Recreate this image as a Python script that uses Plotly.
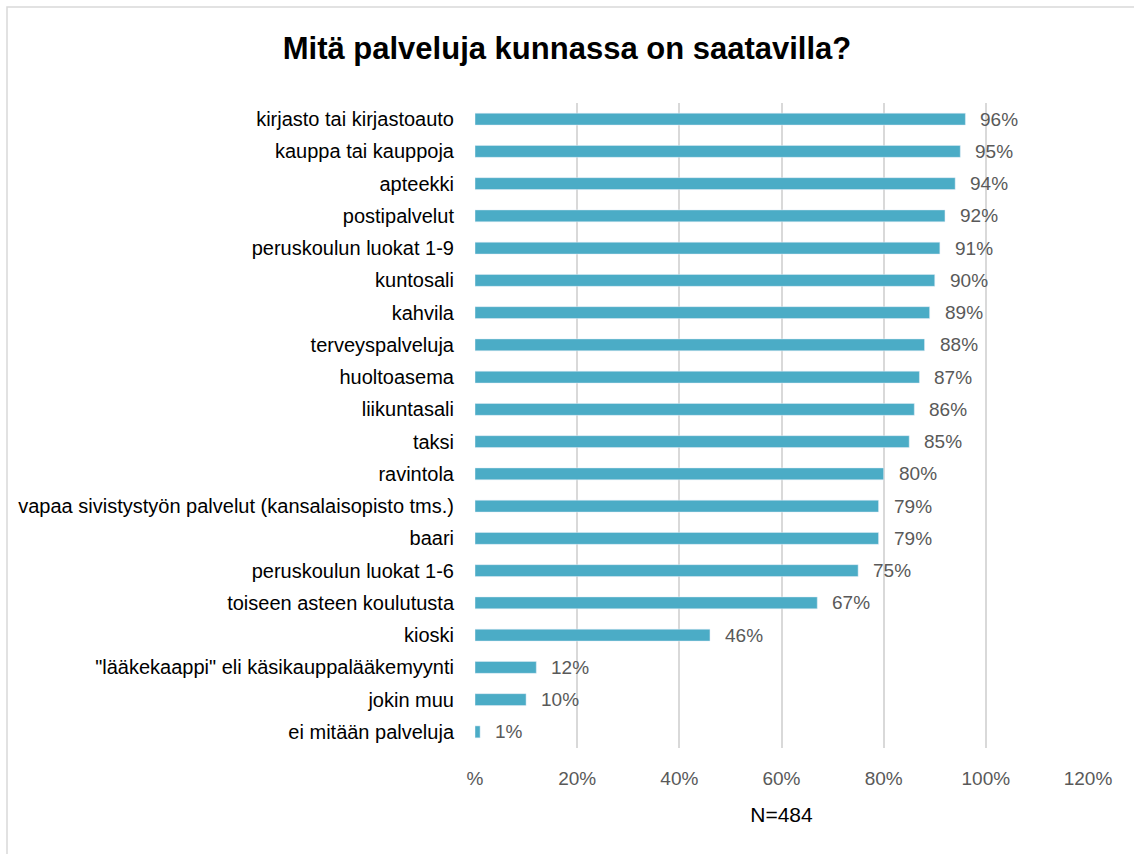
import plotly.graph_objects as go

####################### Data #######################
services = [
    'kirjasto tai kirjastoauto',
    'kauppa tai kauppoja',
    'apteekki',
    'postipalvelut',
    'peruskoulun luokat 1-9',
    'kuntosali',
    'kahvila',
    'terveyspalveluja',
    'huoltoasema',
    'liikuntasali',
    'taksi',
    'ravintola',
    'vapaa sivistystyön palvelut (kansalaisopisto tms.)',
    'baari',
    'peruskoulun luokat 1-6',
    'toiseen asteen koulutusta',
    'kioski',
    '"lääkekaappi" eli käsikauppalääkemyynti',
    'jokin muu',
    'ei mitään palveluja',
]
shares = [96, 95, 94, 92, 91, 90, 89, 88, 87, 86, 85, 80, 79, 79, 75, 67, 46, 12, 10, 1]

tick_vals = [0, 20, 40, 60, 80, 100, 120]
tick_text = ['%', '20%', '40%', '60%', '80%', '100%', '120%']

font_main = 'Liberation Sans Narrow, Arial Narrow, Liberation Sans, Arial, sans-serif'

####################### Plot #######################
fig = go.Figure()

fig.add_trace(go.Bar(
    x=shares,
    y=services,
    orientation='h',
    width=0.37,
    marker=dict(color='#4BACC6'),
    showlegend=False,
))

# value labels next to the bars
for name, val in zip(services, shares):
    fig.add_annotation(
        x=val, y=name,
        text=f'{val}%',
        showarrow=False,
        xanchor='left',
        xshift=13,
        font=dict(family=font_main, size=19, color='#595959'),
    )

fig.update_layout(
    title=dict(
        text='<b>Mitä palveluja kunnassa on saatavilla?</b>',
        x=0.5, xanchor='center',
        y=0.944, yanchor='middle',
        font=dict(family=font_main, size=31, color='black'),
    ),
    xaxis=dict(
        range=[0, 120],
        tickvals=tick_vals,
        ticktext=tick_text,
        showgrid=True,
        gridcolor='#d9d9d9',
        gridwidth=2,
        zeroline=False,
        showline=False,
        ticks='',
        ticklabelstandoff=17,
        tickfont=dict(family=font_main, size=19, color='#595959'),
        title=dict(text='N=484', standoff=19,
                   font=dict(family=font_main, size=21, color='black')),
    ),
    yaxis=dict(
        autorange='reversed',
        showgrid=False,
        ticks='',
        ticklabelstandoff=20,
        tickfont=dict(family=font_main, size=20, color='black'),
    ),
    plot_bgcolor='white',
    paper_bgcolor='white',
    margin=dict(l=475, r=46, t=103, b=106),
    width=1134,
    height=854,
)

# thin frame around the whole chart
fig.add_shape(
    type='rect', xref='paper', yref='paper',
    x0=-468 / 613, x1=1 + 60 / 613, y0=-120 / 645, y1=1 + 96 / 645,
    line=dict(color='#d9d9d9', width=1.5),
    layer='below',
)

fig.write_html("out.html", config={'displayModeBar': False},
               post_script="document.body.style.margin='0px';")
